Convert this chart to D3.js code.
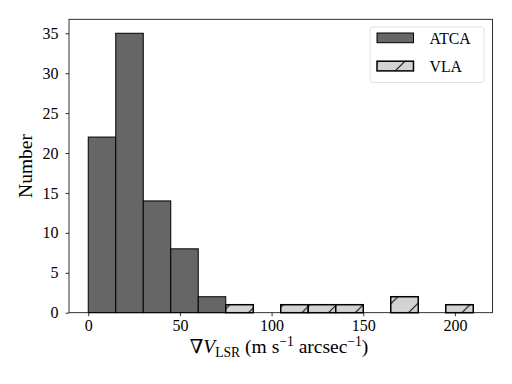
<!DOCTYPE html>
<html>
<head>
<meta charset="utf-8">
<script src="https://cdn.jsdelivr.net/npm/d3@7"></script>
<style>
  body { margin: 0; background: #fff; }
  svg text { font-family: "Liberation Serif", serif; fill: #000; }
</style>
</head>
<body>
<svg id="chart" width="512" height="384"></svg>
<script>
// Data
const binWidth = 15;
const atcaBins = [0, 15, 30, 45, 60];
const atcaCounts = [22, 35, 14, 8, 2];
const vlaBins = [75, 105, 120, 135, 165, 195];
const vlaCounts = [1, 1, 1, 1, 2, 1];
const xTicks = [0, 50, 100, 150, 200];
const yTicks = [0, 5, 10, 15, 20, 25, 30, 35];
const seriesNames = ['ATCA', 'VLA'];

// Layout
const plot = {left: 69, right: 492.5, top: 19.3, bottom: 312.7};
const serif = '"Liberation Serif", serif';
const tickSize = 16;
const labelSize = 19.5;
const legendSize = 15.8;

let svg = d3.select('#chart');

let x = d3.scaleLinear().domain([-10.5, 220.5]).range([plot.left, plot.right]);
let y = d3.scaleLinear().domain([0, 36.75]).range([plot.bottom, plot.top]);

// Hatch pattern
let defs = svg.append('defs');
let p = 80 / 3;
defs.append('pattern')
  .attr('id', 'hatch')
  .attr('patternUnits', 'userSpaceOnUse')
  .attr('x', 1.3)
  .attr('width', p)
  .attr('height', p)
  .append('path')
  .attr('d', `M0,${p}L${p},0M${-2},2L2,${-2}M${p - 2},${p + 2}L${p + 2},${p - 2}`)
  .style('stroke', '#000')
  .style('stroke-width', 1);

// ATCA bars
svg.append('g').selectAll('rect')
  .data(atcaBins.map((b, i) => ({b: b, c: atcaCounts[i]})))
  .join('rect')
  .attr('x', d => x(d.b))
  .attr('y', d => y(d.c))
  .attr('width', d => x(d.b + binWidth) - x(d.b))
  .attr('height', d => y(0) - y(d.c))
  .style('fill', '#666666')
  .style('stroke', '#000')
  .style('stroke-width', 1);

// VLA bars
let vla = svg.append('g').selectAll('g')
  .data(vlaBins.map((b, i) => ({b: b, c: vlaCounts[i]})))
  .join('g');
vla.append('rect')
  .attr('x', d => x(d.b))
  .attr('y', d => y(d.c))
  .attr('width', d => x(d.b + binWidth) - x(d.b))
  .attr('height', d => y(0) - y(d.c))
  .style('fill', '#d3d3d3');
vla.append('rect')
  .attr('x', d => x(d.b))
  .attr('y', d => y(d.c))
  .attr('width', d => x(d.b + binWidth) - x(d.b))
  .attr('height', d => y(0) - y(d.c))
  .style('fill', 'url(#hatch)')
  .style('stroke', '#000')
  .style('stroke-width', 1.5);

// Frame
svg.append('rect')
  .attr('x', plot.left)
  .attr('y', plot.top)
  .attr('width', plot.right - plot.left)
  .attr('height', plot.bottom - plot.top)
  .style('fill', 'none')
  .style('stroke', '#000')
  .style('stroke-width', 0.8);

// Axes
let xAxis = svg.append('g')
  .attr('transform', `translate(0, ${plot.bottom})`)
  .call(d3.axisBottom(x).tickValues(xTicks).tickSize(3.5).tickPadding(3));
let yAxis = svg.append('g')
  .attr('transform', `translate(${plot.left}, 0)`)
  .call(d3.axisLeft(y).tickValues(yTicks).tickSize(3.5).tickPadding(7));

[xAxis, yAxis].forEach(a => {
  a.attr('font-family', serif).attr('font-size', tickSize);
  a.select('.domain').remove();
  a.selectAll('line').style('stroke', '#000').style('stroke-width', 0.8);
  a.selectAll('text')
    .style('font-family', serif)
    .style('font-size', tickSize + 'px');
});

// Axis labels
svg.append('text')
  .attr('transform', `translate(32, ${(plot.top + plot.bottom) / 2}) rotate(-90)`)
  .attr('text-anchor', 'middle')
  .style('font-family', serif)
  .style('font-size', labelSize + 'px')
  .text('Number');

let sub = (labelSize * 0.7) + 'px';
let xl = svg.append('text')
  .attr('x', 279)
  .attr('y', 353)
  .attr('text-anchor', 'middle')
  .style('font-family', serif)
  .style('font-size', labelSize + 'px');
xl.append('tspan').style('font-family', '"DejaVu Serif", serif').style('font-weight', 300).text('∇');
xl.append('tspan').style('font-style', 'italic').text('V');
xl.append('tspan').attr('dy', 4).style('font-size', sub).text('LSR');
xl.append('tspan').attr('dy', -4).text(' (m s');
xl.append('tspan').attr('dy', -7).style('font-size', sub).text('−1');
xl.append('tspan').attr('dy', 7).text(' arcsec');
xl.append('tspan').attr('dy', -7).style('font-size', sub).text('−1');
xl.append('tspan').attr('dy', 7).text(')');

// Legend
let legend = svg.append('g');
legend.append('rect')
  .attr('x', 370)
  .attr('y', 27)
  .attr('width', 114)
  .attr('height', 55.5)
  .attr('rx', 3)
  .style('fill', '#fff')
  .style('fill-opacity', 0.8)
  .style('stroke', '#d9d9d9')
  .style('stroke-width', 0.8);

let legendItems = legend.selectAll('g.item')
  .data(seriesNames)
  .join('g')
  .attr('class', 'item')
  .attr('transform', (d, i) => `translate(377, ${33 + i * 28.2})`);
legendItems.append('rect')
  .attr('width', 36.5)
  .attr('height', 9.7)
  .style('fill', (d, i) => i === 0 ? '#666666' : '#d3d3d3')
  .style('stroke', '#000')
  .style('stroke-width', (d, i) => i === 0 ? 1 : 1.5);
legendItems.filter((d, i) => i === 1).append('rect')
  .attr('width', 36.5)
  .attr('height', 9.7)
  .style('fill', 'url(#hatch)');
legendItems.append('text')
  .attr('x', 52.5)
  .attr('y', 11)
  .style('font-family', serif)
  .style('font-size', legendSize + 'px')
  .text(d => d);
</script>
</body>
</html>
